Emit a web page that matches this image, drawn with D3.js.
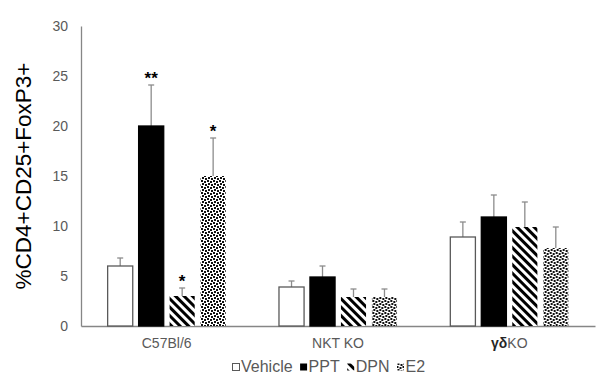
<!DOCTYPE html>
<html>
<head>
<meta charset="utf-8">
<script src="https://cdn.jsdelivr.net/npm/d3@7"></script>
<style>
  body { margin: 0; background: #fff; }
  svg { display: block; font-family: "Liberation Sans", Arial, sans-serif; }
</style>
</head>
<body>
<div id="chart"></div>
<script>
// Data
const groups = ['C57Bl/6', 'NKT KO', 'γδKO'];
const treatments = ['Vehicle', 'PPT', 'DPN', 'E2'];
const means = [
    [6, 20, 3, 15],
    [3.9, 4.9, 2.9, 2.9],
    [8.9, 10.9, 9.9, 7.8]
];
const errors = [
    [0.8, 4.1, 0.8, 3.8],
    [0.6, 1.1, 0.8, 0.8],
    [1.5, 2.2, 2.5, 2.1]
];
const stars = [
    ['', '**', '*', '*'],
    ['', '', '', ''],
    ['', '', '', '']
];
const yTicks = [0, 5, 10, 15, 20, 25, 30];

const width = 600, height = 383;
const margin = { top: 26, right: 5, bottom: 57, left: 81 };

const svg = d3.select('#chart').append('svg')
    .attr('width', width)
    .attr('height', height);

// Patterns for DPN (stripes) and E2 (dots)
const defs = svg.append('defs');
const stripe = defs.append('pattern')
    .attr('id', 'stripes')
    .attr('patternUnits', 'userSpaceOnUse')
    .attr('width', 6).attr('height', 6)
    .attr('patternTransform', 'rotate(-45)');
stripe.append('rect').attr('width', 6).attr('height', 6).attr('fill', '#fff');
stripe.append('rect').attr('width', 3).attr('height', 6).attr('fill', '#000');

const dots = defs.append('pattern')
    .attr('id', 'dots')
    .attr('patternUnits', 'userSpaceOnUse')
    .attr('width', 6).attr('height', 6);
dots.append('rect').attr('width', 6).attr('height', 6).attr('fill', '#fff');
[[0, 0], [3, 1], [1, 3], [4, 4]].forEach(p => {
    dots.append('rect').attr('x', p[0]).attr('y', p[1])
        .attr('width', 2).attr('height', 2).attr('fill', '#111');
});

const fills = { Vehicle: '#fff', PPT: '#000', DPN: 'url(#stripes)', E2: 'url(#dots)' };

const x0 = d3.scaleBand()
    .domain(groups)
    .range([margin.left, width - margin.right]);

const x1 = d3.scaleBand()
    .domain(treatments)
    .range([0, x0.bandwidth()])
    .paddingInner(0.19)
    .paddingOuter(0.86);

const y = d3.scaleLinear()
    .domain([0, 30])
    .range([height - margin.bottom, margin.top]);

// Y axis
const yAxis = svg.append('g')
    .attr('transform', `translate(${margin.left},0)`)
    .call(d3.axisLeft(y).tickValues(yTicks).tickSize(0).tickPadding(13));
yAxis.select('.domain').attr('stroke', '#868686').attr('stroke-width', 1.3);
yAxis.selectAll('text')
    .attr('fill', '#595959')
    .style('font-size', '14px')
    .style('font-family', '"Liberation Sans", Arial, sans-serif');

// X axis
const xAxis = svg.append('g')
    .attr('transform', `translate(0,${y(0)})`)
    .call(d3.axisBottom(x0).tickSize(0).tickFormat(''));
xAxis.select('.domain').attr('stroke', '#868686').attr('stroke-width', 1.3);

groups.forEach(g => {
    const t = svg.append('text')
        .attr('x', x0(g) + x0.bandwidth() / 2)
        .attr('y', y(0) + 22)
        .attr('text-anchor', 'middle')
        .style('font-size', '14px')
        .attr('fill', '#595959');
    if (g === 'γδKO') {
        t.append('tspan').attr('fill', '#262626').attr('font-weight', 'bold').text('γδ');
        t.append('tspan').text('KO');
    } else {
        t.text(g);
    }
});

// Bars
groups.forEach((g, gi) => {
    const grp = svg.append('g').attr('transform', `translate(${x0(g)},0)`);
    treatments.forEach((tr, ti) => {
        const v = means[gi][ti];
        const e = errors[gi][ti];
        const bx = x1(tr);
        const cx = bx + x1.bandwidth() / 2;

        // error bar
        grp.append('line')
            .attr('x1', cx).attr('x2', cx)
            .attr('y1', y(v)).attr('y2', y(v + e))
            .attr('stroke', '#8c8c8c').attr('stroke-width', 1.3);
        grp.append('line')
            .attr('x1', cx - 3).attr('x2', cx + 3)
            .attr('y1', y(v + e)).attr('y2', y(v + e))
            .attr('stroke', '#8c8c8c').attr('stroke-width', 1.3);

        grp.append('rect')
            .attr('x', bx)
            .attr('y', y(v))
            .attr('width', x1.bandwidth())
            .attr('height', y(0) - y(v))
            .attr('fill', fills[tr])
            .attr('stroke', tr === 'Vehicle' ? '#595959' : (tr === 'PPT' ? '#000' : 'none'))
            .attr('stroke-width', 1.3);

        if (stars[gi][ti]) {
            grp.append('text')
                .attr('x', cx)
                .attr('y', y(v + e) - 1)
                .attr('text-anchor', 'middle')
                .style('font-size', '17px')
                .style('font-weight', 'bold')
                .attr('fill', '#000')
                .text(stars[gi][ti]);
        }
    });
});

// Y axis title
svg.append('text')
    .attr('transform', `translate(31,${(y(0) + y(30)) / 2}) rotate(-90)`)
    .attr('text-anchor', 'middle')
    .style('font-size', '22.5px')
    .attr('fill', '#000')
    .text('%CD4+CD25+FoxP3+');

// Legend
const legend = svg.append('g').attr('transform', `translate(232,${y(0) + 46})`);
let lx = 0;
treatments.forEach(tr => {
    const item = legend.append('g').attr('transform', `translate(${lx},0)`);
    item.append('rect')
        .attr('x', 0.5).attr('y', -8.5)
        .attr('width', 7).attr('height', 7)
        .attr('fill', fills[tr])
        .attr('stroke', tr === 'Vehicle' ? '#595959' : 'none');
    const txt = item.append('text')
        .attr('x', 9)
        .attr('y', 0)
        .style('font-size', '16px')
        .attr('fill', '#595959')
        .text(tr);
    lx += 9 + txt.node().getComputedTextLength() + 7;
});
</script>
</body>
</html>
